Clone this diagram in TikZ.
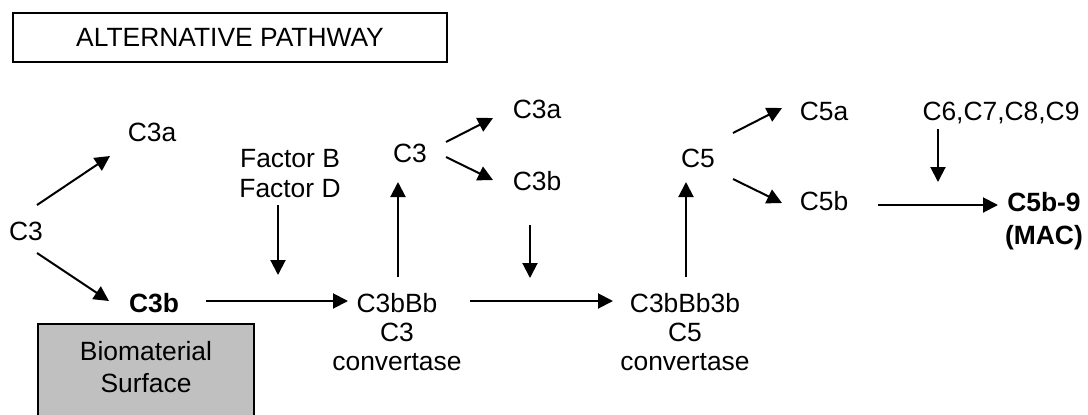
\documentclass[tikz,border=0pt]{standalone}
\usepackage{fontspec}
\setmainfont{Liberation Sans}
\usetikzlibrary{arrows.meta}
\definecolor{surfgray}{HTML}{C0C0C0}

\begin{document}
\begin{tikzpicture}[x=0.5pt, y=-0.5pt,
  font=\fontsize{13.2}{14.5}\selectfont,
  lbl/.style={inner sep=0pt, anchor=base},
  blk/.style={inner sep=0pt, anchor=north, align=center},
  ar/.style={line width=1pt, -{Triangle[length=7.5pt, width=7.5pt]}}]
\useasboundingbox (0,0) rectangle (1088,414);
% title and surface
\node[draw, line width=1pt, minimum width=217pt, minimum height=24.5pt] (title) at (230,37) {ALTERNATIVE PATHWAY};
\fill[surfgray, draw=black, line width=1pt] (38,324) rectangle (254,440);
\node[blk, font=\fontsize{13.2}{16}\selectfont] (surf) at (146,341) {Biomaterial\\Surface};
% first split of C3
\node[lbl] (c3) at (26,240) {C3};
\node[lbl] (c3a) at (152,141) {C3a};
\node[lbl, font=\fontsize{13.2}{14.5}\selectfont\bfseries] (c3b) at (154,312) {C3b};
\node[blk, font=\fontsize{13.2}{15}\selectfont] (fac) at (290,149) {Factor B\\Factor D};
% C3 convertase
\node[blk] (conv3) at (397,293) {C3bBb\\C3\\convertase};
\node[lbl] (c3m) at (410,162) {C3};
\node[lbl] (c3am) at (537,118) {C3a};
\node[lbl] (c3bm) at (537,190) {C3b};
% C5 convertase
\node[blk] (conv5) at (685,293) {C3bBb3b\\C5\\convertase};
\node[lbl] (c5) at (698,167) {C5};
\node[lbl] (c5a) at (824,120) {C5a};
\node[lbl] (c5b) at (824,210) {C5b};
\node[lbl] (c69) at (1001,120) {C6,C7,C8,C9};
\node[blk, font=\fontsize{13.2}{16.5}\selectfont\bfseries] (mac) at (1044,192) {C5b-9\\(MAC)};
% arrow ends
\coordinate (c3u) at (37,205);   \coordinate (c3au) at (110,156);
\coordinate (c3d) at (37,253);   \coordinate (c3bd) at (109,301);
\coordinate (c3bs) at (206,301); \coordinate (cv3e) at (348,301);
\coordinate (facs) at (278,205); \coordinate (face) at (278,275);
\coordinate (cv3u) at (398,277); \coordinate (c3mu) at (398,182);
\coordinate (c3mr) at (446,142); \coordinate (c3ame) at (493,118);
\coordinate (c3ms) at (446,157); \coordinate (c3bme) at (493,180);
\coordinate (c3bs2) at (530,225); \coordinate (c3be2) at (530,278);
\coordinate (cv3s) at (470,301); \coordinate (cv5e) at (613,301);
\coordinate (cv5u) at (686,277); \coordinate (c5u) at (686,182);
\coordinate (c5r) at (733,133);  \coordinate (c5ae) at (782,108);
\coordinate (c5s) at (733,179);  \coordinate (c5be) at (782,203);
\coordinate (c69s) at (938,129); \coordinate (c69e) at (938,182);
\coordinate (c5bs) at (878,205); \coordinate (mace) at (998,205);
% arrows
\draw[ar] (c3u) -- (c3au);
\draw[ar] (c3d) -- (c3bd);
\draw[ar] (c3bs) -- (cv3e);
\draw[ar] (facs) -- (face);
\draw[ar] (cv3u) -- (c3mu);
\draw[ar] (c3mr) -- (c3ame);
\draw[ar] (c3ms) -- (c3bme);
\draw[ar] (c3bs2) -- (c3be2);
\draw[ar] (cv3s) -- (cv5e);
\draw[ar] (cv5u) -- (c5u);
\draw[ar] (c5r) -- (c5ae);
\draw[ar] (c5s) -- (c5be);
\draw[ar] (c69s) -- (c69e);
\draw[ar] (c5bs) -- (mace);
\end{tikzpicture}
\end{document}
